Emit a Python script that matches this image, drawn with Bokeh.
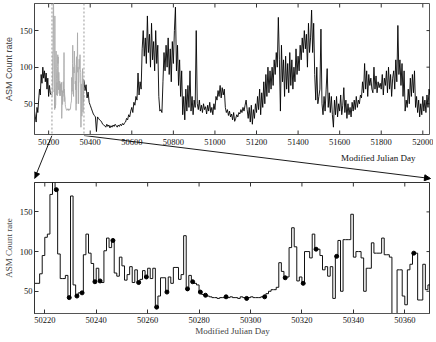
from bokeh.plotting import figure
from bokeh.layouts import column
from bokeh.core.properties import value
from bokeh.models import (Range1d, FixedTicker, Span, Arrow, NormalHead,
                          BasicTickFormatter, ColumnDataSource)
from bokeh.embed import file_html
from bokeh.resources import INLINE

# ---------------- data ----------------
zoom_lo, zoom_hi = 50216, 50370

# daily ASM rate inside the zoom window, MJD 50216 .. 50370
zoom_rate = [
    60, 60, 72, 95, 118, 122, 172, 195, 178, 97,
    66, 66, 70, 42, 170, 58, 44, 48, 48, 96,
    122, 98, 85, 62, 79, 63, 61, 101, 117, 105,
    114, 73, 69, 93, 82, 64, 71, 81, 61, 77,
    61, 65, 76, 68, 79, 66, 79, 30, 44, 67,
    67, 49, 68, 60, 80, 80, 65, 71, 120, 53,
    70, 62, 60, 58, 49, 46, 45, 44, 43, 42,
    42, 41, 42, 42, 43, 42, 43, 42, 42, 41,
    43, 42, 41, 42, 43, 42, 42, 42, 43, 43,
    47, 50, 52, 52, 55, 86, 75, 67, 68, 105,
    130, 106, 63, 68, 60, 100, 100, 92, 122, 103,
    103, 95, 77, 81, 69, 81, 41, 94, 114, 50,
    115, 115, 115, 147, 93, 100, 100, 92, 50, 79,
    79, 111, 98, 98, 98, 117, 96, 96, 93, 18,
    18, 77, 77, 44, 33, 77, 84, 98, 98, 39,
    39, 84, 52, 58, 62,
]
zoom_days = list(range(zoom_lo, zoom_lo + len(zoom_rate)))

# days marked with a dot in the zoom panel
dot_days = [50224, 50229, 50232, 50234, 50239, 50241, 50246, 50256, 50259, 50263,
            50267, 50275, 50277, 50280, 50282, 50290, 50298, 50305, 50313, 50320,
            50325, 50333, 50363]

# light curve before the window: MJD 50132, every 4 days
early_start, early_step = 50132, 4
early_rate = [40, 32, 25, 45, 38, 55, 70, 62, 90, 78, 100, 85, 95, 80, 92, 70, 85, 60, 75, 65, 62]

# light curve after the window: MJD 50370, every 5 days
late_start, late_step = 50370, 5
late_rate = [
    82, 68, 76, 58, 66, 52, 48, 44, 40, 36, 34, 32, 12, 32, 30, 28, 27, 25, 22, 21,
    20, 18, 22, 19, 21, 17, 20, 18, 21, 19, 22, 20, 18, 21, 19, 22, 20, 23, 21, 24,
    25, 30, 28, 35, 32, 40, 45, 38, 52, 48, 60, 55, 92, 62, 80, 70, 125, 150, 115, 140,
    105, 170, 120, 145, 100, 160, 110, 135, 95, 150, 105, 130, 60, 40, 42, 38, 80, 120, 95, 130,
    100, 140, 90, 125, 80, 135, 105, 150, 182, 95, 130, 75, 110, 60, 95, 35, 60, 28, 70, 40,
    75, 45, 95, 40, 60, 35, 55, 45, 150, 50, 42, 55, 40, 48, 38, 50, 42, 46, 36, 48,
    40, 52, 38, 45, 35, 50, 42, 60, 55, 68, 60, 75, 58, 72, 62, 70, 45, 38, 42, 34,
    40, 32, 36, 28, 38, 26, 30, 35, 32, 38, 36, 42, 38, 45, 40, 48, 55, 42, 30, 45,
    25, 48, 22, 42, 30, 50, 38, 60, 42, 70, 35, 65, 45, 80, 50, 90, 60, 100, 65, 95,
    70, 100, 75, 110, 90, 120, 100, 168, 110, 40, 130, 80, 110, 60, 115, 70, 105, 65, 120, 75,
    110, 70, 100, 80, 125, 90, 115, 95, 130, 110, 140, 120, 150, 125, 145, 100, 160, 120, 140, 178,
    120, 160, 90, 55, 100, 50, 60, 70, 152, 50, 35, 60, 40, 70, 98, 45, 65, 38, 60, 35,
    18, 55, 35, 60, 32, 50, 40, 62, 35, 48, 72, 38, 55, 30, 50, 35, 45, 32, 52, 40,
    55, 42, 60, 45, 55, 50, 62, 58, 80, 65, 105, 70, 95, 60, 90, 75, 85, 70, 65, 100,
    70, 88, 65, 80, 72, 78, 70, 90, 62, 85, 75, 95, 65, 100, 70, 90, 60, 85, 95, 70,
    110, 80, 157, 90, 110, 75, 105, 60, 95, 40, 55, 45, 70, 50, 85, 60, 90, 65, 95, 45,
    60, 38, 55, 32, 50, 35, 60, 40, 55, 38, 62, 45, 70, 62,
]

top_xticks = [50200, 50400, 50600, 50800, 51000, 51200, 51400, 51600, 51800, 52000]
bot_xticks = [50220, 50240, 50260, 50280, 50300, 50320, 50340, 50360]
yticks = [50, 100, 150]

top_xrange = (50132, 52037)
top_yrange = (8, 187)
bot_yrange = (22, 187)

x_title = "Modified Julian Day"
y_title = "ASM Count rate"

# ---------------- layout constants ----------------
LEFT = 32          # left border (y axis) of every panel, px
FW = 396           # frame width of the two plots, px
EXTRA = 5          # the strip frame reaches a little further right, px
TOP_FH = 131
BOT_FH = 131
STRIP_H = 46       # connector strip between the panels, px
TICK = 4
SERIF = "Liberation Serif"
SANS = "Liberation Sans"
TICK_COLOR = "#333333"


def style_axis(ax, ticks, line_color, size="8.5px", standoff=4):
    ax.ticker = FixedTicker(ticks=ticks)
    ax.major_tick_in = TICK
    ax.major_tick_out = 0
    ax.minor_tick_line_color = None
    ax.axis_line_color = line_color
    ax.major_tick_line_color = TICK_COLOR
    ax.major_label_text_font = SERIF
    ax.major_label_text_font_size = size
    ax.major_label_text_color = "#111111"
    ax.major_label_standoff = standoff


def inner_ticks(p, xr, yr, fh, xticks, yt, bottom=False):
    """inward ticks on the top (and optionally bottom) and right edges of the frame"""
    ppx = FW / (xr[1] - xr[0])
    ppy = fh / (yr[1] - yr[0])
    n = len(xticks)
    p.segment(x0=xticks, x1=xticks, y0=[yr[1] - TICK / ppy] * n, y1=[yr[1]] * n,
              line_color=TICK_COLOR, line_width=1)
    if bottom:
        p.segment(x0=xticks, x1=xticks, y0=[yr[0]] * n, y1=[yr[0] + TICK / ppy] * n,
                  line_color=TICK_COLOR, line_width=1)
    p.segment(x0=[xr[1] - TICK / ppx] * len(yt), x1=[xr[1]] * len(yt), y0=yt, y1=yt,
              line_color=TICK_COLOR, line_width=1)


# ---------------- top panel ----------------
top = figure(frame_width=FW, frame_height=TOP_FH, x_range=Range1d(*top_xrange),
             y_range=Range1d(*top_yrange), x_axis_location=None,
             output_backend="svg", toolbar_location=None,
             min_border_left=LEFT, min_border_right=0, min_border_top=3, min_border_bottom=1)
top.grid.visible = False
top.outline_line_color = "#555555"
style_axis(top.yaxis[0], yticks, "#444444", standoff=2)
top.yaxis[0].axis_label = y_title
top.yaxis[0].axis_label_text_font = SANS
top.yaxis[0].axis_label_text_font_size = "9px"
top.yaxis[0].axis_label_text_font_style = "normal"
top.yaxis[0].axis_label_standoff = 3
inner_ticks(top, top_xrange, top_yrange, TOP_FH, top_xticks, yticks, bottom=True)

early_days = [early_start + early_step * i for i in range(len(early_rate))]
late_days = [late_start + late_step * i for i in range(len(late_rate))]
top.line(early_days, early_rate, line_color="black", line_width=0.9)
top.line(late_days, late_rate, line_color="black", line_width=0.9)
top.line(zoom_days, zoom_rate, line_color="#aaaaaa", line_width=0.9)

for loc in (zoom_lo, zoom_hi):
    top.add_layout(Span(location=loc, dimension="height", line_color="#999999",
                        line_dash="2 2", line_width=1))

# ---------------- connector strip (tick labels of the top panel + arrows) ----------------
ppx = FW / (top_xrange[1] - top_xrange[0])
strip = figure(frame_width=FW + EXTRA, frame_height=STRIP_H,
               x_range=Range1d(top_xrange[0], top_xrange[1] + EXTRA / ppx),
               y_range=Range1d(STRIP_H, 0),          # y measured downwards, in px
               x_axis_location=None, y_axis_location=None,
               output_backend="svg", toolbar_location=None,
               min_border_left=LEFT, min_border_right=0, min_border_top=0, min_border_bottom=0)
strip.grid.visible = False
strip.outline_line_color = None

strip.text(x=top_xticks, y=[3] * len(top_xticks), text=[str(t) for t in top_xticks],
           text_align="center", text_baseline="top", text_font=value(SERIF),
           text_font_size=value("8.5px"), text_color="#111111")
strip.text(x=[top_xrange[1] - 15 / ppx], y=[22], text=[x_title], text_align="right",
           text_baseline="middle", text_font=value(SERIF), text_font_size=value("9px"),
           text_color="#111111")

tip_y = STRIP_H - 3
for x0, x1 in ((zoom_lo, top_xrange[0]), (zoom_hi, top_xrange[1])):
    strip.add_layout(Arrow(x_start=x0, y_start=0, x_end=x1, y_end=tip_y,
                           line_color="black", line_width=0.9,
                           end=NormalHead(size=6, fill_color="black", line_color="black",
                                          line_width=1)))

# ---------------- bottom panel ----------------
bot = figure(frame_width=FW, frame_height=BOT_FH, x_range=Range1d(zoom_lo, zoom_hi),
             y_range=Range1d(*bot_yrange), output_backend="svg", toolbar_location=None,
             min_border_left=LEFT, min_border_right=0, min_border_top=1, min_border_bottom=24)
bot.grid.visible = False
bot.outline_line_color = "#333333"
bot.xaxis[0].formatter = BasicTickFormatter(use_scientific=False)
style_axis(bot.xaxis[0], bot_xticks, "#555555", standoff=3)
bot.xaxis[0].axis_label = x_title
bot.xaxis[0].axis_label_text_font = SERIF
bot.xaxis[0].axis_label_text_font_size = "9px"
bot.xaxis[0].axis_label_text_font_style = "normal"
bot.xaxis[0].axis_label_standoff = 0
style_axis(bot.yaxis[0], yticks, "#333333", standoff=2)
bot.yaxis[0].axis_label = y_title
bot.yaxis[0].axis_label_text_font = SERIF
bot.yaxis[0].axis_label_text_font_size = "9px"
bot.yaxis[0].axis_label_text_font_style = "normal"
bot.yaxis[0].axis_label_standoff = 3
inner_ticks(bot, (zoom_lo, zoom_hi), bot_yrange, BOT_FH, bot_xticks, yticks)

src = ColumnDataSource(dict(day=zoom_days, rate=zoom_rate))
bot.step(x="day", y="rate", source=src, mode="after", line_color="#111111", line_width=1)
rate_of = dict(zip(zoom_days, zoom_rate))
bot.scatter([d + 0.5 for d in dot_days], [rate_of[d] for d in dot_days],
            size=4, fill_color="black", line_color="black")

layout = column(top, strip, bot, spacing=0)
open("out.html", "w").write(file_html(layout, INLINE))
